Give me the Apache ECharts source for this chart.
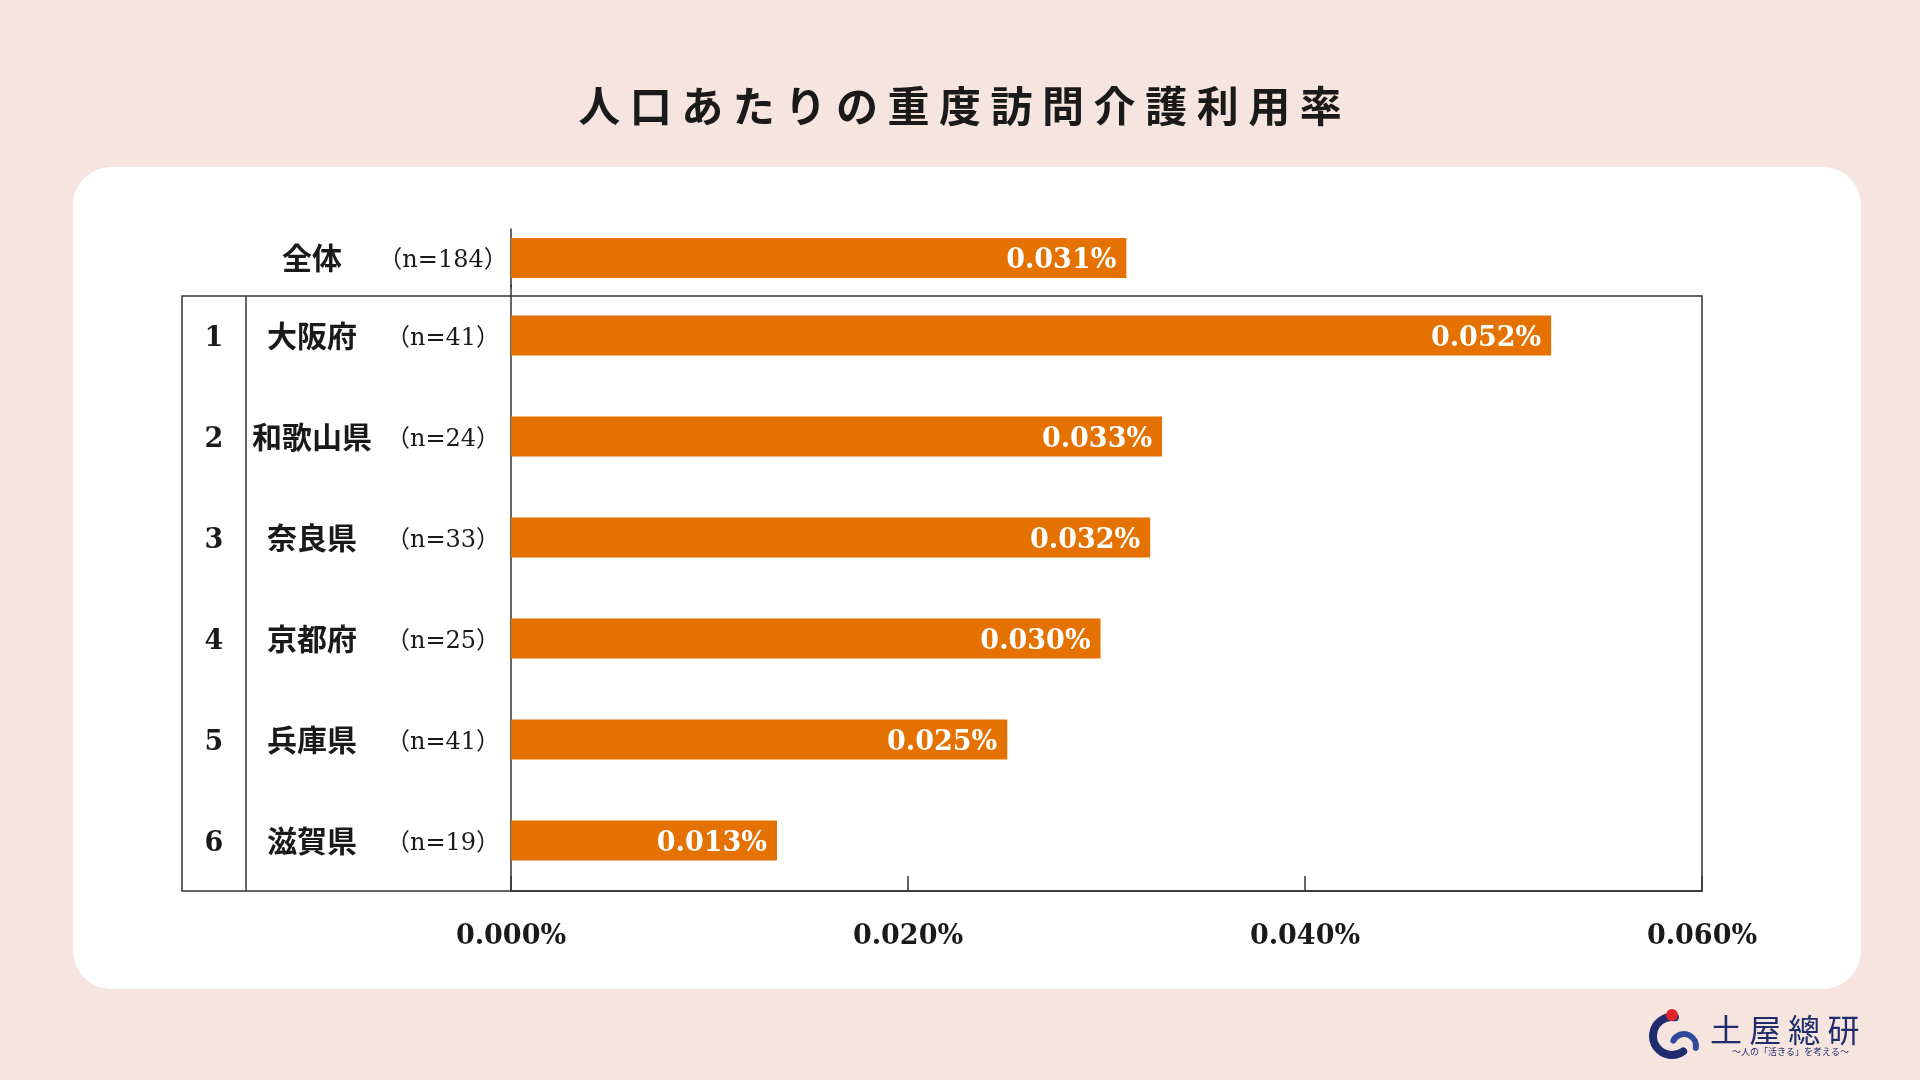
<!DOCTYPE html>
<html>
<head>
<meta charset="UTF-8">
<script src="https://cdn.jsdelivr.net/npm/echarts@6/dist/echarts.min.js"></script>
<style>
html, body { margin: 0; padding: 0; background: #f5e5de; }
#main { width: 1920px; height: 1080px; }
</style>
</head>
<body>
<div id="main"></div>
<script>
// 全体の値
var totalName = '全体';
var totalN = 184;
var totalRate = 0.0310;

// 都道府県別（ランキング順）
var ranks = ['1', '2', '3', '4', '5', '6'];
var prefectures = ['大阪府', '和歌山県', '奈良県', '京都府', '兵庫県', '滋賀県'];
var sampleSizes = [41, 24, 33, 25, 41, 19];
var rates = [0.0524, 0.0328, 0.0322, 0.0297, 0.0250, 0.0134];

var axisMin = 0;
var axisMax = 0.06;
var axisStep = 0.02;

var serif = "'DejaVu Serif', 'Noto Sans CJK JP', serif";
var gothic = "'Noto Sans CJK JP', sans-serif";
var barColor = '#e57200';
var lineColor = '#333333';
var navy = '#1f2d6e';

var richLabel = {
    r: { width: 64, align: 'center', fontFamily: serif, fontWeight: 'bold', fontSize: 27, color: '#1a1a1a', padding: [6, 0, 0, 0] },
    name: { width: 132, align: 'center', fontFamily: gothic, fontWeight: 'bold', fontSize: 30, color: '#1a1a1a' },
    n: { width: 130, align: 'center', fontFamily: serif, fontSize: 24, color: '#1a1a1a', padding: [6, 0, 0, 0] }
};

function leftLabel(rank, name, n) {
    return '{r|' + rank + '}{name|' + name + '}{n|（n=' + n + '）}';
}

var valueLabel = {
    show: true, position: 'insideRight', distance: 10, offset: [0, 3], color: '#ffffff',
    fontFamily: serif, fontWeight: 'bold', fontSize: 27,
    formatter: function (p) { return p.value.toFixed(3) + '%'; }
};

var chart = echarts.init(document.getElementById('main'));

chart.setOption({
    backgroundColor: '#f5e5de',
    animation: false,
    title: {
        text: '人 口 あ た り の 重 度 訪 問 介 護 利 用 率',
        left: 'center',
        top: 80,
        textStyle: { fontFamily: gothic, fontWeight: 'bold', fontSize: 42, color: '#1a1a1a' }
    },
    graphic: [
        { type: 'rect', z: -10, silent: true,
          shape: { x: 73, y: 167, width: 1788, height: 822, r: 38 },
          style: { fill: '#ffffff' } },
        // 順位表の枠
        { type: 'rect', z: 10, silent: true,
          shape: { x: 182, y: 296, width: 1520, height: 595 },
          style: { fill: null, stroke: lineColor, lineWidth: 1.5 } },
        { type: 'line', z: 10, silent: true,
          shape: { x1: 246, y1: 296, x2: 246, y2: 891 },
          style: { stroke: lineColor, lineWidth: 1.5 } },
        // ロゴ
        { type: 'arc', z: 10, silent: true,
          shape: { cx: 1672, cy: 1036, r: 19, startAngle: Math.PI * 0.3, endAngle: Math.PI * 1.55 },
          style: { fill: null, stroke: navy, lineWidth: 8, lineCap: 'round' } },
        { type: 'arc', z: 10, silent: true,
          shape: { cx: 1684, cy: 1046, r: 12, startAngle: Math.PI * 1.15, endAngle: Math.PI * 2.05 },
          style: { fill: null, stroke: '#2f4a9a', lineWidth: 6, lineCap: 'round' } },
        { type: 'circle', z: 10, silent: true,
          shape: { cx: 1672, cy: 1015, r: 6 },
          style: { fill: '#e0262b' } },
        { type: 'text', z: 10, silent: true, x: 1710, y: 1014,
          style: { text: '土 屋 總 研', fontFamily: gothic, fontSize: 32, fill: navy } },
        { type: 'text', z: 10, silent: true, x: 1732, y: 1047,
          style: { text: '～人の「活きる」を考える～', fontFamily: gothic, fontSize: 9, fill: navy } }
    ],
    grid: [
        { left: 511, right: 218, top: 229, height: 58 },
        { left: 511, right: 218, top: 285, height: 606 }
    ],
    xAxis: [
        { gridIndex: 0, type: 'value', min: axisMin, max: axisMax, interval: axisStep, show: false },
        { gridIndex: 1, type: 'value', min: axisMin, max: axisMax, interval: axisStep,
          splitLine: { show: false },
          axisLine: { show: true, lineStyle: { color: lineColor, width: 1.5 } },
          axisTick: { show: true, inside: true, length: 15, lineStyle: { color: lineColor, width: 1.5 } },
          axisLabel: { margin: 32, fontFamily: serif, fontWeight: 'bold', fontSize: 27, color: '#1a1a1a',
                       formatter: function (v) { return v.toFixed(3) + '%'; } } }
    ],
    yAxis: [
        { gridIndex: 0, type: 'category', inverse: true, data: [totalName],
          axisLine: { show: true, lineStyle: { color: lineColor, width: 1.5 } },
          axisTick: { show: false },
          axisLabel: { margin: 3, rich: richLabel,
                       formatter: function (v) { return leftLabel('', v, totalN); } } },
        { gridIndex: 1, type: 'category', inverse: true, data: prefectures,
          axisLine: { show: true, lineStyle: { color: lineColor, width: 1.5 } },
          axisTick: { show: false },
          axisLabel: { margin: 3, rich: richLabel,
                       formatter: function (v, i) { return leftLabel(ranks[i], v, sampleSizes[i]); } } }
    ],
    series: [
        { type: 'bar', xAxisIndex: 0, yAxisIndex: 0, data: [totalRate], barWidth: 40,
          itemStyle: { color: barColor }, label: valueLabel },
        { type: 'bar', xAxisIndex: 1, yAxisIndex: 1, data: rates, barWidth: 40,
          itemStyle: { color: barColor }, label: valueLabel }
    ]
});
</script>
</body>
</html>
